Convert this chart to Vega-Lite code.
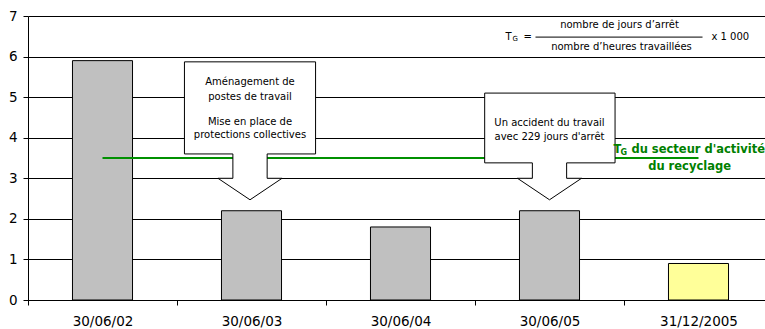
{
  "$schema": "https://vega.github.io/schema/vega-lite/v6.json",
  "width": 737,
  "height": 284,
  "autosize": {"type": "none"},
  "padding": {"left": 28, "top": 16, "right": 0, "bottom": 29},
  "config": {
    "view": {"stroke": null},
    "font": "DejaVu Sans",
    "axis": {
      "domainColor": "#000",
      "tickColor": "#000",
      "labelColor": "#000",
      "labelFont": "DejaVu Sans",
      "labelFontSize": 13.5,
      "tickSize": 5
    }
  },
  "datasets": {
    "taux": [
      {"date": "30/06/02", "tg": 5.9, "periode": "exercice"},
      {"date": "30/06/03", "tg": 2.2, "periode": "exercice"},
      {"date": "30/06/04", "tg": 1.8, "periode": "exercice"},
      {"date": "30/06/05", "tg": 2.2, "periode": "exercice"},
      {"date": "31/12/2005", "tg": 0.9, "periode": "semestre"}
    ],
    "secteur": [
      {"date": "30/06/02", "tg": 3.5},
      {"date": "30/06/03", "tg": 3.5},
      {"date": "30/06/04", "tg": 3.5},
      {"date": "30/06/05", "tg": 3.5},
      {"date": "31/12/2005", "tg": 3.5}
    ],
    "bulles": [
      {"bulle": "a", "i": 1, "u": 1.05, "v": 5.87},
      {"bulle": "a", "i": 2, "u": 1.93, "v": 5.87},
      {"bulle": "a", "i": 3, "u": 1.93, "v": 3.6},
      {"bulle": "a", "i": 4, "u": 1.605, "v": 3.6},
      {"bulle": "a", "i": 5, "u": 1.605, "v": 3.0},
      {"bulle": "a", "i": 6, "u": 1.705, "v": 3.0},
      {"bulle": "a", "i": 7, "u": 1.49, "v": 2.47},
      {"bulle": "a", "i": 8, "u": 1.275, "v": 3.0},
      {"bulle": "a", "i": 9, "u": 1.375, "v": 3.0},
      {"bulle": "a", "i": 10, "u": 1.375, "v": 3.6},
      {"bulle": "a", "i": 11, "u": 1.05, "v": 3.6},
      {"bulle": "a", "i": 12, "u": 1.05, "v": 5.87},
      {"bulle": "b", "i": 1, "u": 3.065, "v": 5.1},
      {"bulle": "b", "i": 2, "u": 3.94, "v": 5.1},
      {"bulle": "b", "i": 3, "u": 3.94, "v": 3.38},
      {"bulle": "b", "i": 4, "u": 3.615, "v": 3.38},
      {"bulle": "b", "i": 5, "u": 3.615, "v": 3.0},
      {"bulle": "b", "i": 6, "u": 3.715, "v": 3.0},
      {"bulle": "b", "i": 7, "u": 3.5, "v": 2.47},
      {"bulle": "b", "i": 8, "u": 3.285, "v": 3.0},
      {"bulle": "b", "i": 9, "u": 3.385, "v": 3.0},
      {"bulle": "b", "i": 10, "u": 3.385, "v": 3.38},
      {"bulle": "b", "i": 11, "u": 3.065, "v": 3.38},
      {"bulle": "b", "i": 12, "u": 3.065, "v": 5.1}
    ],
    "notes": [
      {"u": 1.49, "v": 5.373, "texte": "Aménagement de"},
      {"u": 1.49, "v": 5.003, "texte": "postes de travail"},
      {"u": 1.49, "v": 4.387, "texte": "Mise en place de"},
      {"u": 1.49, "v": 4.067, "texte": "protections collectives"},
      {"u": 3.5, "v": 4.363, "texte": "Un accident du travail"},
      {"u": 3.5, "v": 4.018, "texte": "avec 229 jours d'arrêt"},
      {"u": 3.97, "v": 6.78, "texte": "nombre de jours d’arrêt"},
      {"u": 3.983, "v": 6.236, "texte": "nombre d’heures travaillées"}
    ],
    "formule": [
      {"u": 3.205, "v": 6.48, "texte": "T"},
      {"u": 3.325, "v": 6.48, "texte": "="},
      {"u": 4.587, "v": 6.48, "texte": "x 1 000"}
    ],
    "indice": [
      {"u": 3.252, "v": 6.43, "texte": "G"}
    ],
    "trait": [
      {"u": 3.406, "u2": 4.527, "v": 6.48}
    ],
    "legende": [
      {"u": 3.93, "v": 3.697, "texte": "T"},
      {"u": 4.05, "v": 3.697, "texte": "du secteur d'activité"}
    ],
    "legendeIndice": [
      {"u": 3.977, "v": 3.63, "texte": "G"}
    ],
    "legende2": [
      {"u": 4.44, "v": 3.278, "texte": "du recyclage"}
    ]
  },
  "layer": [
    {
      "layer": [
        {
          "data": {"name": "taux"},
          "mark": {"type": "bar", "width": {"band": 0.403}, "stroke": "#000", "strokeWidth": 1},
          "encoding": {
            "x": {
              "field": "date", "type": "nominal", "sort": null,
              "scale": {"range": [0, 745], "paddingInner": 0, "paddingOuter": 0},
              "axis": {"title": null, "tickBand": "extent", "labelAngle": 0, "labelPadding": 9, "grid": false}
            },
            "y": {
              "field": "tg", "type": "quantitative",
              "scale": {"domain": [0, 7], "nice": false},
              "axis": {"title": null, "values": [0, 1, 2, 3, 4, 5, 6, 7], "grid": true, "gridColor": "#000", "gridOpacity": 1, "labelPadding": 6}
            },
            "color": {
              "field": "periode", "type": "nominal",
              "scale": {"domain": ["exercice", "semestre"], "range": ["#C0C0C0", "#FFFF99"]},
              "legend": null
            }
          }
        },
        {
          "data": {"name": "secteur"},
          "mark": {"type": "line", "color": "#009000", "strokeWidth": 2},
          "encoding": {
            "x": {"field": "date", "type": "nominal", "sort": null},
            "y": {"field": "tg", "type": "quantitative"}
          }
        }
      ]
    },
    {
      "layer": [
        {
          "data": {"name": "bulles"},
          "mark": {"type": "line", "fill": "#FFFFFF", "stroke": "#000", "strokeWidth": 1, "strokeJoin": "miter", "interpolate": "linear"},
          "encoding": {
            "x": {"field": "u", "type": "quantitative", "scale": {"domain": [0, 5], "range": [0, 745], "nice": false, "zero": false}, "axis": null},
            "y": {"field": "v", "type": "quantitative"},
            "detail": {"field": "bulle"},
            "order": {"field": "i", "type": "quantitative"}
          }
        },
        {
          "data": {"name": "notes"},
          "mark": {"type": "text", "fontSize": 10, "align": "center", "baseline": "middle", "color": "#000"},
          "encoding": {
            "x": {"field": "u", "type": "quantitative"},
            "y": {"field": "v", "type": "quantitative"},
            "text": {"field": "texte"}
          }
        },
        {
          "data": {"name": "formule"},
          "mark": {"type": "text", "fontSize": 10, "align": "left", "baseline": "middle", "color": "#000"},
          "encoding": {
            "x": {"field": "u", "type": "quantitative"},
            "y": {"field": "v", "type": "quantitative"},
            "text": {"field": "texte"}
          }
        },
        {
          "data": {"name": "indice"},
          "mark": {"type": "text", "fontSize": 7, "align": "left", "baseline": "middle", "color": "#000"},
          "encoding": {
            "x": {"field": "u", "type": "quantitative"},
            "y": {"field": "v", "type": "quantitative"},
            "text": {"field": "texte"}
          }
        },
        {
          "data": {"name": "trait"},
          "mark": {"type": "rule", "color": "#000", "strokeWidth": 1},
          "encoding": {
            "x": {"field": "u", "type": "quantitative"},
            "x2": {"field": "u2"},
            "y": {"field": "v", "type": "quantitative"}
          }
        },
        {
          "data": {"name": "legende"},
          "mark": {"type": "text", "fontSize": 11.5, "fontWeight": "bold", "align": "left", "baseline": "middle", "color": "#008000"},
          "encoding": {
            "x": {"field": "u", "type": "quantitative"},
            "y": {"field": "v", "type": "quantitative"},
            "text": {"field": "texte"}
          }
        },
        {
          "data": {"name": "legendeIndice"},
          "mark": {"type": "text", "fontSize": 8, "fontWeight": "bold", "align": "left", "baseline": "middle", "color": "#008000"},
          "encoding": {
            "x": {"field": "u", "type": "quantitative"},
            "y": {"field": "v", "type": "quantitative"},
            "text": {"field": "texte"}
          }
        },
        {
          "data": {"name": "legende2"},
          "mark": {"type": "text", "fontSize": 11.5, "fontWeight": "bold", "align": "center", "baseline": "middle", "color": "#008000"},
          "encoding": {
            "x": {"field": "u", "type": "quantitative"},
            "y": {"field": "v", "type": "quantitative"},
            "text": {"field": "texte"}
          }
        }
      ]
    }
  ],
  "resolve": {"scale": {"x": "independent"}}
}
